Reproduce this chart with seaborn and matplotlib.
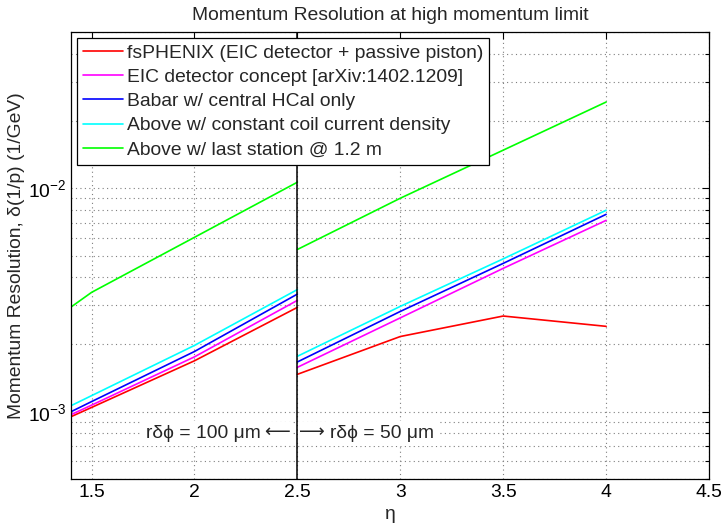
import numpy as np
import pandas as pd
import matplotlib
matplotlib.use("Agg")
import matplotlib.pyplot as plt
from matplotlib.ticker import LogLocator, LogFormatterSciNotation, NullFormatter
import seaborn as sns

# ---- data ----
series = [
    "fsPHENIX (EIC detector + passive piston)",
    "EIC detector concept [arXiv:1402.1209]",
    "Babar w/ central HCal only",
    "Above w/ constant coil current density",
    "Above w/ last station @ 1.2 m",
]
colors = ["#ff0000", "#ff00ff", "#0000ff", "#00ffff", "#00ff00"]

eta_left = [1.4, 1.5, 2.0, 2.5]    # r dphi = 100 um
eta_right = [2.5, 3.0, 3.5, 4.0]   # r dphi = 50 um

fsphenix_left = [9.5e-4, 1.045e-3, 1.69e-3, 2.93e-3]
fsphenix_right = [1.47e-3, 2.17e-3, 2.68e-3, 2.41e-3]
eic_left = [9.7e-4, 1.07e-3, 1.76e-3, 3.15e-3]
eic_right = [1.58e-3, 2.63e-3, 4.38e-3, 7.18e-3]
babar_left = [1.00e-3, 1.11e-3, 1.86e-3, 3.36e-3]
babar_right = [1.67e-3, 2.81e-3, 4.61e-3, 7.64e-3]
coil_left = [1.064e-3, 1.18e-3, 1.98e-3, 3.52e-3]
coil_right = [1.77e-3, 2.96e-3, 4.83e-3, 7.97e-3]
station_left = [2.94e-3, 3.42e-3, 6.03e-3, 1.064e-2]
station_right = [5.32e-3, 9.02e-3, 1.48e-2, 2.43e-2]

left_vals = [fsphenix_left, eic_left, babar_left, coil_left, station_left]
right_vals = [fsphenix_right, eic_right, babar_right, coil_right, station_right]

xticks = [1.5, 2, 2.5, 3, 3.5, 4, 4.5]
xticklabels = ["1.5", "2", "2.5", "3", "3.5", "4", "4.5"]

rows = []
for name, lv, rv in zip(series, left_vals, right_vals):
    for x, y in zip(eta_left, lv):
        rows.append(dict(series=name, segment="left", eta=x, res=y))
    for x, y in zip(eta_right, rv):
        rows.append(dict(series=name, segment="right", eta=x, res=y))
df = pd.DataFrame(rows)

# ---- style ----
sns.set_style("white")
FONT = ["Liberation Sans", "DejaVu Sans"]
plt.rcParams["font.family"] = FONT
plt.rcParams["mathtext.fontset"] = "custom"
plt.rcParams["mathtext.rm"] = "Liberation Sans"
plt.rcParams["mathtext.it"] = "Liberation Sans:italic"
plt.rcParams["mathtext.default"] = "regular"
FS = 13.9

fig = plt.figure(figsize=(7.22, 5.29), dpi=100)
ax = fig.add_axes([71 / 722, 1 - 479 / 529, (709 - 71) / 722, (479 - 32) / 529])

for name, col in zip(series, colors):
    sub = df[df.series == name]
    sns.lineplot(data=sub, x="eta", y="res", units="segment", estimator=None,
                 color=col, lw=1.2, ax=ax, label=name, sort=True)

ax.axvline(2.5, color="black", lw=1.1, zorder=6)

ax.set_yscale("log")
ax.set_xlim(1.4, 4.5)
ax.set_ylim(5e-4, 5e-2)
ax.set_xticks(xticks)
ax.set_xticklabels(xticklabels)
ax.yaxis.set_major_locator(LogLocator(base=10, numticks=10))
ax.yaxis.set_minor_locator(LogLocator(base=10, subs=np.arange(2, 10), numticks=20))
ax.yaxis.set_major_formatter(LogFormatterSciNotation())
ax.yaxis.set_minor_formatter(NullFormatter())

ax.grid(True, which="major", axis="both", color="#7f7f7f", linestyle=(0, (1, 3)), lw=0.8)
ax.grid(True, which="minor", axis="y", color="#7f7f7f", linestyle=(0, (1, 3)), lw=0.8)
ax.set_axisbelow(True)

ax.tick_params(which="both", direction="in", top=True, right=True, labelsize=FS,
               colors="black")
ax.tick_params(which="major", length=5, width=0.8)
ax.tick_params(which="minor", length=3, width=0.8)
for s in ax.spines.values():
    s.set_color("black")
    s.set_linewidth(0.9)

ax.set_xlabel("η", fontsize=FS, labelpad=4)
ax.set_ylabel("Momentum Resolution, δ(1/p) (1/GeV)", fontsize=FS, labelpad=2)
ax.set_title("Momentum Resolution at high momentum limit", fontsize=FS, pad=9)

handles, labels = ax.get_legend_handles_labels()
uh, ul = [], []
for h, l in zip(handles, labels):
    if l not in ul:
        uh.append(h)
        ul.append(l)
leg = ax.legend(uh, ul, loc="upper left", fontsize=FS, frameon=True, fancybox=False,
                edgecolor="black", framealpha=1, handlelength=2.05,
                handletextpad=0.2, labelspacing=0.35, borderaxespad=0.3,
                borderpad=0.33)
leg.set_zorder(7)
leg.get_frame().set_linewidth(0.9)
for line in leg.get_lines():
    line.set_linewidth(1.2)

ybase = 7.64e-4
yarrow = 8.1e-4
bb = dict(facecolor="white", edgecolor="none", pad=3)
ax.text(2.323, ybase, "rδϕ = 100 μm", fontsize=FS, ha="right", va="baseline",
        family=FONT, zorder=4, bbox=bb)
ax.text(2.403, yarrow, "⟵", fontsize=13, ha="center", va="center",
        family=["DejaVu Sans"], zorder=4, bbox=dict(facecolor="white", edgecolor="none", pad=1))
ax.text(2.572, yarrow, "⟶", fontsize=13, ha="center", va="center",
        family=["DejaVu Sans"], zorder=4, bbox=dict(facecolor="white", edgecolor="none", pad=1))
ax.text(2.658, ybase, "rδϕ = 50 μm", fontsize=FS, ha="left", va="baseline",
        family=FONT, zorder=4, bbox=bb)

fig.savefig("out.png", dpi=100)
